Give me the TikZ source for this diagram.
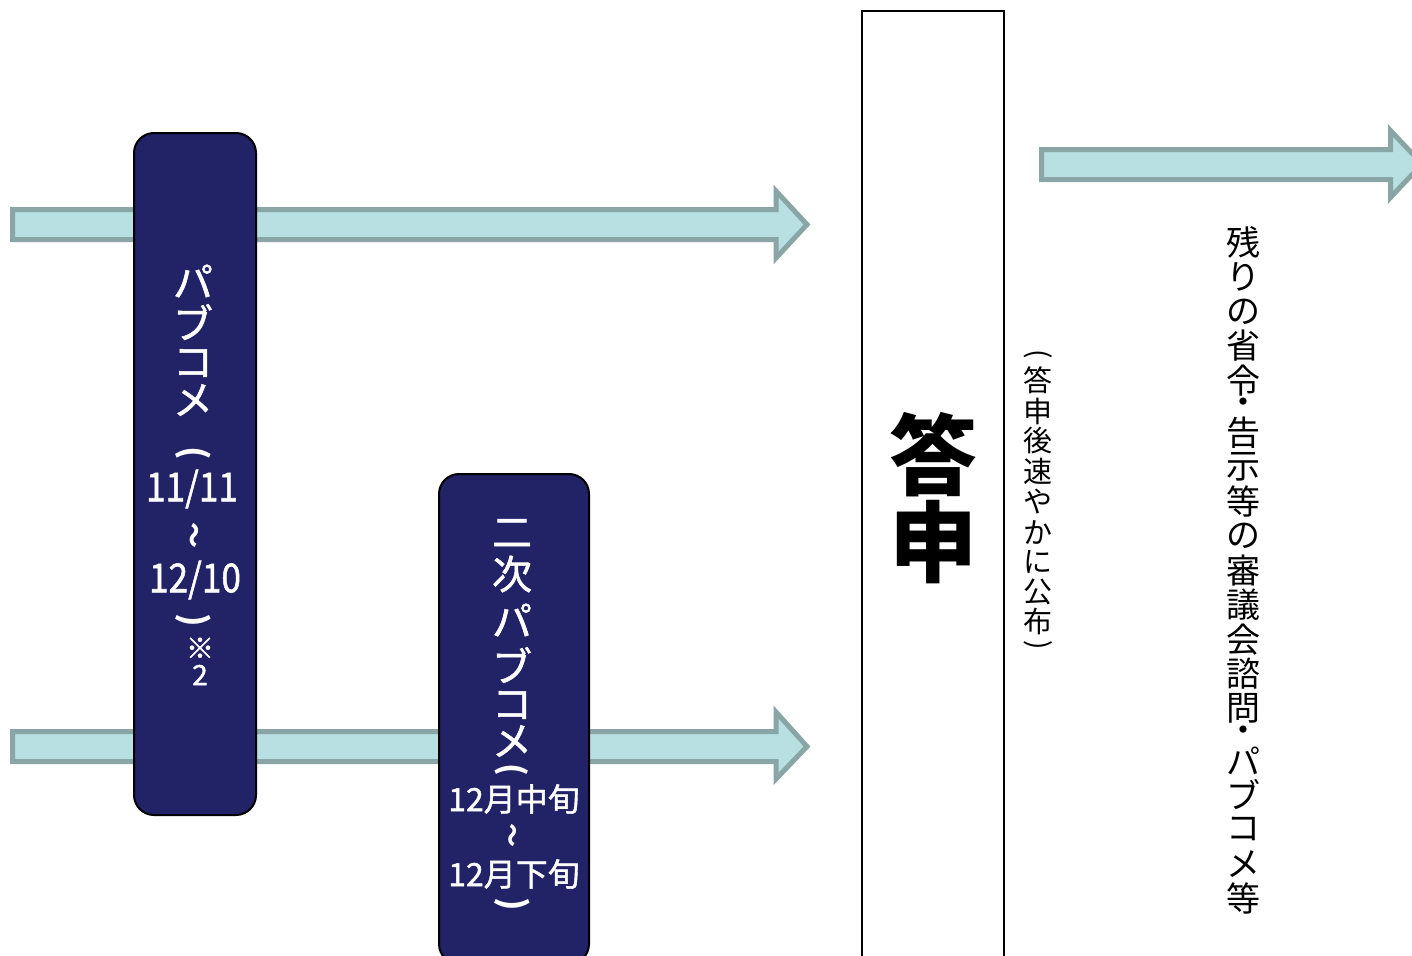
\documentclass[tikz,border=0pt]{standalone}
\usepackage{fontspec}
\setmainfont{Noto Sans CJK JP}
\newfontfamily\jpm[FakeBold=1.3]{Noto Sans CJK JP}
\usepackage{graphicx}
\definecolor{navy}{HTML}{222266}
\definecolor{arrfill}{HTML}{B8DFE2}
\definecolor{arrline}{HTML}{8AA5A5}
\tikzset{
  fatarrow/.style={fill=arrfill, draw=arrline, line width=5pt, line join=miter},
  navybox/.style={fill=navy, draw=black, line width=2pt, rounded corners=20pt, inner sep=0pt},
  whitebox/.style={fill=white, draw=black, line width=2pt, inner sep=0pt},
  wch/.style={inner sep=0pt, text=white},
  bch/.style={inner sep=0pt, text=black},
}
\newcommand{\fs}[1]{\fontsize{#1}{#1}\selectfont}
\newcommand{\mfs}[1]{\jpm\fontsize{#1}{#1}\selectfont}
\newcommand{\vop}{\rotatebox{-90}{(}}
\newcommand{\vcl}{\rotatebox{-90}{)}}
\newcommand{\vwave}{\rotatebox{-90}{～}}
\begin{document}
\begin{tikzpicture}[x=1pt,y=-1pt]
\useasboundingbox (0,0) rectangle (1412,955);
\clip (0,0) rectangle (1412,955);
% arrows
\draw[fatarrow] (12.5,209.5) -- (776,209.5) -- (776,191) -- (807,224.5) -- (776,258) -- (776,239.5) -- (12.5,239.5) -- cycle;
\draw[fatarrow] (12.5,731.5) -- (776,731.5) -- (776,712) -- (807,746.5) -- (776,779) -- (776,761.5) -- (12.5,761.5) -- cycle;
\draw[fatarrow] (1041.5,149.5) -- (1390.5,149.5) -- (1390.5,130.5) -- (1422,164) -- (1390.5,197.5) -- (1390.5,179.5) -- (1041.5,179.5) -- cycle;
% boxes
\node[navybox, minimum width=122pt, minimum height=682pt] (box1) at (195,474) {};
\node[navybox, minimum width=150pt, minimum height=490pt] (box2) at (514,719) {};
\node[whitebox, minimum width=142pt, minimum height=970pt] (tobox) at (933,496) {};
% box1 text
\foreach \c/\y [count=\i] in {パ/281,ブ/322,コ/363,メ/400}
  \node[wch, font=\mfs{40}] (a\i) at (193,\y) {\c};
\node[wch, font=\fs{34}\bfseries] (aop) at (193,453) {\vop};
\node[wch, font=\mfs{40}] (ad1) at (192,489) {\scalebox{0.88}[1]{11/11}};
\node[wch, font=\fs{26}\bfseries] (awave) at (192,535) {\vwave};
\node[wch, font=\mfs{40}] (ad2) at (195,580) {\scalebox{0.88}[1]{12/10}};
\node[wch, font=\fs{34}\bfseries] (acl) at (193,620) {\vcl};
\node[wch, font=\mfs{28}] (anote) at (200,648) {※};
\node[wch, font=\mfs{28}] (atwo) at (200,675) {2};
% box2 text
\foreach \c/\y [count=\i] in {二/533,次/574,パ/620,ブ/665,コ/705,メ/741}
  \node[wch, font=\mfs{40}] (b\i) at (512,\y) {\c};
\node[wch, font=\fs{32}\bfseries] (bop) at (512,770) {\vop};
\node[wch, font=\mfs{32}] (bd1) at (514,799) {12月中旬};
\node[wch, font=\fs{24}\bfseries] (bwave) at (510,835) {\vwave};
\node[wch, font=\mfs{32}] (bd2) at (514,874) {12月下旬};
\node[wch, font=\fs{34}\bfseries] (bcl) at (512,904) {\vcl};
% big text
\node[bch, font=\fs{88}\bfseries] (to1) at (933,455) {答};
\node[bch, font=\fs{88}\bfseries] (to2) at (933,542) {申};
% small right text
\node[bch, font=\fs{28}] (c1) at (1038,354) {\vop};
\foreach \c/\y [count=\i from 2] in {答/380,申/411,後/441,速/471,や/502,か/532,に/562,公/592,布/621}
  \node[bch, font=\fs{29}] (c\i) at (1038,\y) {\c};
\node[bch, font=\fs{28}] (c11) at (1038,645) {\vcl};
% right long text
\foreach \c/\y [count=\i] in {残/242.5,り/277,の/311.5,省/346,令/380.5,・/406.4,告/432.3,示/466.8,等/501.3,の/535.8,審/570.3,議/604.8,会/639.3,諮/673.8,問/708.3,・/734.1,パ/760.4,ブ/794.9,コ/829.4,メ/863.9,等/898.4}
  \node[bch, font=\fs{34}] (d\i) at (1243,\y) {\c};
\end{tikzpicture}
\end{document}
